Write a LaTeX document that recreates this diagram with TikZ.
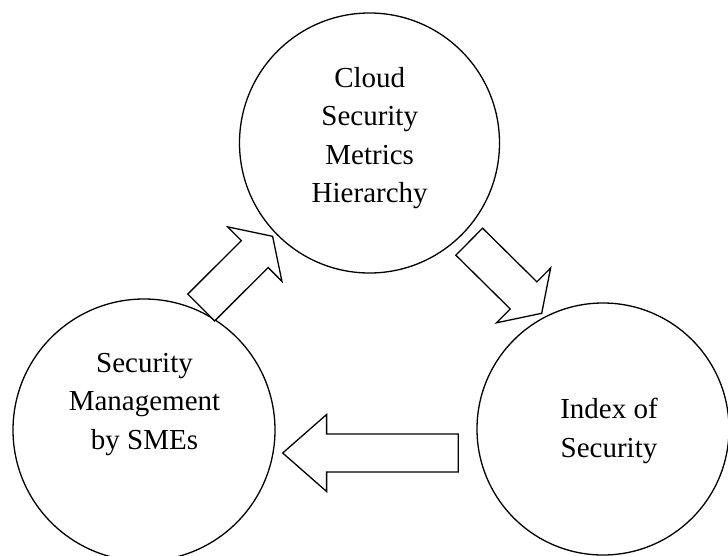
\documentclass[tikz,border=0pt]{standalone}
\usepackage{fontspec}
\setmainfont{Liberation Serif}
\usetikzlibrary{calc}
\tikzset{
  ring/.style={circle, draw, line width=1.3pt, inner sep=0pt},
  lbl/.style={align=center, font=\fontsize{29}{38.5}\selectfont, inner sep=0pt},
  blk/.style={draw, line width=1.3pt, fill=white, line join=miter},
}
\newcommand{\blockarr}[2]{%
  \coordinate (#1-base) at ($(#2)!0.25!(#1)$);
  \draw[blk] ($(#1)!19pt!90:(#2)$) -- ($(#1-base)!19pt!90:(#2)$)
    -- ($(#1-base)!38.5pt!90:(#2)$) -- (#2)
    -- ($(#1-base)!38.5pt!-90:(#2)$) -- ($(#1-base)!19pt!-90:(#2)$)
    -- ($(#1)!19pt!-90:(#2)$) -- cycle;}
\begin{document}
\begin{tikzpicture}[x=1pt,y=-1pt]
\useasboundingbox (0,0) rectangle (728,555);
% circles
\node[ring, minimum size=260pt] (top) at (369.5,143) {};
\node[ring, minimum size=262pt] (left) at (144,430) {};
\node[ring, minimum size=252pt] (right) at (603,429) {};
% labels
\node[lbl] (toptext) at (369.7,138.3) {Cloud\\Security\\Metrics\\Hierarchy};
\node[lbl] (lefttext) at (144.5,404.1) {Security\\Management\\by SMEs};
\node[lbl] (righttext) at (609,430.8) {Index of\\Security};
% block arrows
\coordinate (a1s) at (201.2,307.5);
\coordinate (a1e) at (272.6,236.3);
\coordinate (a2s) at (469.2,241.7);
\coordinate (a2e) at (541.7,313.3);
\coordinate (a3s) at (458.3,453);
\coordinate (a3e) at (282.7,453);
\blockarr{a1s}{a1e}
\blockarr{a2s}{a2e}
\blockarr{a3s}{a3e}
\end{tikzpicture}
\end{document}
